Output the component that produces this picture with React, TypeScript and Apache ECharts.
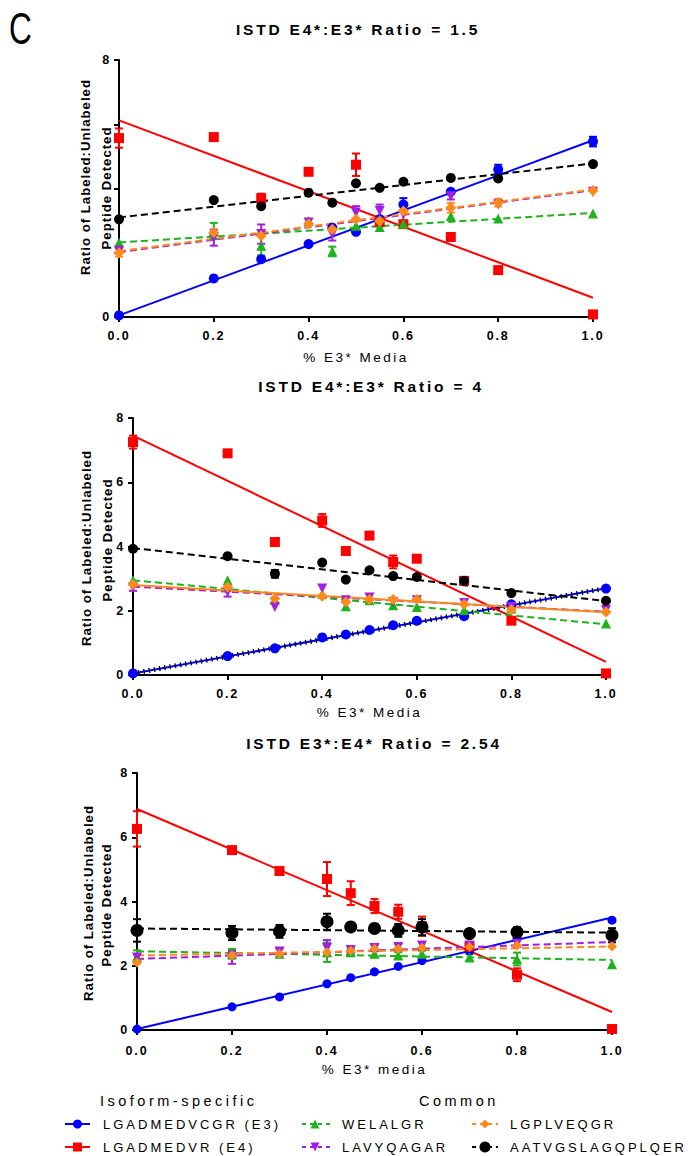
import React, { useEffect, useRef } from 'react';
import * as echarts from 'echarts';

// ---------- data ----------
const xPct = [0, 0.2, 0.3, 0.4, 0.45, 0.5, 0.55, 0.6, 0.7, 0.8, 1.0];
const yTickValues = [0, 2, 4, 6, 8];
const panelTitles = ['ISTD E4*:E3* Ratio = 1.5', 'ISTD E4*:E3* Ratio = 4', 'ISTD E3*:E4* Ratio = 2.54'];
const xAxisTitles = ['% E3* Media', '% E3* Media', '% E3* media'];
const yTitleLine1 = 'Ratio of Labeled:Unlabeled';
const yTitleLine2 = 'Peptide Detected';
const peptides = ['LGADMEDVCGR (E3)', 'LGADMEDVR (E4)', 'WELALGR', 'LAVYQAGAR', 'LGPLVEQGR', 'AATVGSLAGQPLQER'];
const legendHeaders = ['Isoform-specific', 'Common'];

// Panel 1: ISTD ratio 1.5
const p1E3 = [0.05, 1.2, 1.8, 2.27, 2.78, 2.65, 3.05, 3.5, 3.9, 4.59, 5.46];
const p1E4 = [5.57, 5.6, 3.69, 4.52, null, 4.74, 2.95, 2.89, 2.49, 1.46, 0.08];
const p1WEL = [2.32, 2.68, 2.22, 2.99, 2.04, 2.84, 2.8, 2.9, 3.14, 3.07, 3.22];
const p1LAV = [2.06, 2.47, 2.58, 2.94, 2.58, 3.25, 3.3, 3.2, 3.76, 3.5, 3.9];
const p1LGP = [2.0, 2.63, 2.53, 2.9, 2.73, 3.04, 2.99, 3.3, 3.4, 3.56, 3.94];
const p1AAT = [3.04, 3.64, 3.45, 3.87, 3.56, 4.16, 4.02, 4.21, 4.33, 4.31, 4.76];
const e1E3 = [0, 0, 0, 0, 0, 0, 0, 0.2, 0, 0.15, 0.15];
const e1E4 = [0.3, 0, 0.15, 0, 0, 0.35, 0, 0, 0, 0, 0];
const e1WEL = [0, 0.25, 0.3, 0, 0.15, 0, 0, 0, 0, 0, 0];
const e1LAV = [0, 0.25, 0.3, 0, 0.2, 0.2, 0.2, 0.25, 0.1, 0, 0];
const e1LGP = [0.12, 0, 0, 0, 0, 0, 0, 0, 0.15, 0.12, 0];
const e1AAT = [0, 0, 0, 0, 0, 0, 0, 0, 0, 0, 0];
const fit1E3 = [0.05, 5.5];
const fit1E4 = [6.12, 0.6];
const fit1WEL = [2.32, 3.24];
const fit1LAV = [2.02, 3.95];
const fit1LGP = [2.05, 3.97];
const fit1AAT = [3.1, 4.78];

// Panel 2: ISTD ratio 4
const p2E3 = [0.05, 0.59, 0.83, 1.17, 1.26, 1.4, 1.55, 1.69, 1.83, 2.2, 2.69];
const p2E4 = [7.25, 6.9, 4.14, 4.81, 3.86, 4.34, 3.52, 3.62, 2.93, 1.69, 0.05];
const p2WEL = [2.95, 2.95, 2.35, 2.53, 2.14, 2.33, 2.17, 2.12, 2.02, 2.07, 1.6];
const p2LAV = [2.72, 2.59, 2.12, 2.69, 2.33, 2.41, 2.27, 2.33, 2.24, 2.12, 2.02];
const p2LGP = [2.82, 2.74, 2.38, 2.45, 2.27, 2.35, 2.35, 2.35, 2.2, 2.04, 1.96];
const p2AAT = [3.93, 3.7, 3.15, 3.5, 2.97, 3.26, 3.08, 3.05, 2.93, 2.55, 2.31];
const e2E3 = [0, 0, 0, 0, 0, 0, 0, 0, 0, 0, 0];
const e2E4 = [0.2, 0, 0, 0.2, 0, 0.1, 0.2, 0, 0, 0, 0];
const e2WEL = [0, 0, 0, 0, 0, 0, 0, 0, 0, 0, 0];
const e2LAV = [0.1, 0.15, 0, 0, 0, 0, 0, 0, 0, 0, 0];
const e2LGP = [0, 0, 0, 0, 0, 0, 0, 0, 0, 0, 0];
const e2AAT = [0, 0, 0.12, 0, 0, 0, 0, 0, 0, 0, 0];
const fit2E3 = [0.05, 2.7];
const fit2E4 = [7.45, 0.41];
const fit2WEL = [2.95, 1.58];
const fit2LAV = [2.75, 1.97];
const fit2LGP = [2.8, 1.95];
const fit2AAT = [3.95, 2.3];

// Panel 3: ISTD ratio 2.54
const p3E3 = [0.03, 0.72, 1.03, 1.44, 1.63, 1.81, 1.98, 2.16, 2.45, 2.87, 3.42];
const p3E4 = [6.26, 5.6, 4.95, 4.7, 4.26, 3.86, 3.68, 3.23, 2.6, 1.72, 0.03];
const p3WEL = [2.28, 2.37, 2.37, 2.42, 2.42, 2.37, 2.32, 2.37, 2.26, 2.21, 2.05];
const p3LAV = [2.26, 2.26, 2.44, 2.55, 2.49, 2.55, 2.58, 2.63, 2.63, 2.68, 2.74];
const p3LGP = [2.1, 2.32, 2.37, 2.42, 2.47, 2.53, 2.53, 2.56, 2.58, 2.63, 2.6];
const p3AAT = [3.1, 3.02, 3.07, 3.37, 3.21, 3.16, 3.1, 3.2, 3.0, 3.05, 2.95];
const e3E3 = [0, 0, 0, 0, 0, 0, 0, 0, 0, 0, 0];
const e3E4 = [0.55, 0.1, 0.1, 0.53, 0.37, 0.22, 0.22, 0.3, 0.1, 0.2, 0];
const e3WEL = [0.2, 0.15, 0, 0.3, 0.1, 0.1, 0.1, 0.1, 0.1, 0.2, 0];
const e3LAV = [0.1, 0.2, 0.1, 0.25, 0.1, 0.1, 0.1, 0.1, 0.1, 0.1, 0.15];
const e3LGP = [0, 0, 0, 0, 0, 0, 0, 0, 0, 0, 0];
const e3AAT = [0.35, 0.22, 0.2, 0.25, 0.1, 0.08, 0.2, 0.25, 0.12, 0.15, 0.22];
const fit3E3 = [0.03, 3.5];
const fit3E4 = [6.88, 0.56];
const fit3WEL = [2.45, 2.18];
const fit3LAV = [2.21, 2.74];
const fit3LGP = [2.32, 2.6];
const fit3AAT = [3.16, 3.03];

// ---------- styling ----------
const FONT = '"Liberation Sans", Arial, sans-serif';
const COLORS = ['#0000ff', '#ff0000', '#1db31d', '#a21ee0', '#ff8a1c', '#000000'];
const SYMBOLS = ['circle', 'rect', 'triangle', 'triangle', 'diamond', 'circle'];
const ROTATE = [0, 0, 0, 180, 0, 0];
const DASHED = [false, false, true, true, true, true];

const panels = [
  {
    vals: [p1E3, p1E4, p1WEL, p1LAV, p1LGP, p1AAT],
    errs: [e1E3, e1E4, e1WEL, e1LAV, e1LGP, e1AAT],
    fits: [fit1E3, fit1E4, fit1WEL, fit1LAV, fit1LGP, fit1AAT],
    grid: { left: 119, top: 60, width: 474, height: 257 },
    sizes: [10, 10, 10, 10, 11, 10],
    solidOverride: [] as number[],
    showAllY: false,
    title: { x: 358, y: 29 },
    yT1: { x: 85, y: 177 },
    yT2: { x: 106, y: 188 },
    labelMargin: 12,
    nameGap: 33,
  },
  {
    vals: [p2E3, p2E4, p2WEL, p2LAV, p2LGP, p2AAT],
    errs: [e2E3, e2E4, e2WEL, e2LAV, e2LGP, e2AAT],
    fits: [fit2E3, fit2E4, fit2WEL, fit2LAV, fit2LGP, fit2AAT],
    grid: { left: 133, top: 418, width: 473, height: 257 },
    sizes: [10, 10, 10, 10, 11, 10],
    solidOverride: [4],
    showAllY: true,
    title: { x: 371, y: 386 },
    yT1: { x: 86, y: 548 },
    yT2: { x: 107, y: 540 },
    labelMargin: 12,
    nameGap: 30,
  },
  {
    vals: [p3E3, p3E4, p3WEL, p3LAV, p3LGP, p3AAT],
    errs: [e3E3, e3E4, e3WEL, e3LAV, e3LGP, e3AAT],
    fits: [fit3E3, fit3E4, fit3WEL, fit3LAV, fit3LGP, fit3AAT],
    grid: { left: 137, top: 773, width: 475, height: 257 },
    sizes: [9, 10, 10, 10, 10, 13],
    solidOverride: [] as number[],
    showAllY: true,
    title: { x: 374, y: 743 },
    yT1: { x: 88, y: 903 },
    yT2: { x: 106, y: 905 },
    labelMargin: 14,
    nameGap: 32,
  },
];

const css = `
text[style*="15.5px"]{letter-spacing:2.8px}
text[style*="12.5px"]{letter-spacing:1.8px}
text[style*="13.5px"]{letter-spacing:2.5px}
text[style*="13.2px"]{letter-spacing:1px}
text[style*="14.5px"]{letter-spacing:3.5px}
text[style*="13px"]{letter-spacing:3px}
`;

function buildOption() {
  const grids: any[] = [];
  const xAxes: any[] = [];
  const yAxes: any[] = [];
  const series: any[] = [];
  const graphics: any[] = [];

  panels.forEach((p, pi) => {
    grids.push({ ...p.grid, containLabel: false });
    xAxes.push({
      type: 'value', gridIndex: pi, min: 0, max: 1, interval: 0.2,
      axisLine: { show: true, onZero: false, lineStyle: { color: '#000', width: 2 } },
      axisTick: { show: true, length: 5, lineStyle: { color: '#000', width: 2 } },
      axisLabel: {
        margin: p.labelMargin, color: '#000', fontFamily: FONT, fontWeight: 'bold', fontSize: 12.5,
        formatter: (v: number) => v.toFixed(1),
      },
      splitLine: { show: false },
      name: xAxisTitles[pi], nameLocation: 'middle', nameGap: p.nameGap,
      nameTextStyle: { color: '#000', fontFamily: FONT, fontSize: 13.5 },
    });
    yAxes.push({
      type: 'value', gridIndex: pi, min: yTickValues[0], max: yTickValues[yTickValues.length - 1], interval: 2,
      axisLine: { show: true, onZero: false, lineStyle: { color: '#000', width: 2 } },
      axisTick: { show: true, length: 5, lineStyle: { color: '#000', width: 2 } },
      axisLabel: {
        margin: 8, color: '#000', fontFamily: FONT, fontWeight: 'bold', fontSize: 12.5,
        formatter: (v: number) => (p.showAllY || v === 0 || v === 8 ? String(v) : ''),
      },
      splitLine: { show: false },
    });

    // fit lines
    p.fits.forEach((f, si) => {
      const dashed = DASHED[si] && !p.solidOverride.includes(si);
      series.push({
        type: 'line', xAxisIndex: pi, yAxisIndex: pi, name: peptides[si] + ' fit',
        data: [[0, f[0]], [1, f[1]]], symbol: 'none', silent: true, z: 2,
        lineStyle: { color: COLORS[si], width: 2, type: dashed ? [7, 4] : 'solid' },
      });
      if (pi === 1 && si === 0) {
        series.push({
          type: 'line', xAxisIndex: pi, yAxisIndex: pi, name: peptides[si] + ' fit ticks',
          data: [[0, f[0]], [1, f[1]]], symbol: 'none', silent: true, z: 2,
          lineStyle: { color: '#000', width: 5, type: [1.3, 4] },
        });
      }
    });

    // error bars
    const errData: any[] = [];
    p.errs.forEach((arr, si) => {
      arr.forEach((e, i) => {
        const v = p.vals[si][i];
        if (e && v != null) errData.push([xPct[i], v, e, si]);
      });
    });
    series.push({
      type: 'custom', xAxisIndex: pi, yAxisIndex: pi, name: 'err' + pi, z: 3, silent: true,
      encode: { x: 0, y: 1 },
      data: errData,
      renderItem: (params: any, api: any) => {
        const x = api.value(0), y = api.value(1), e = api.value(2);
        const c = COLORS[api.value(3)];
        const a = api.coord([x, y + e]);
        const b = api.coord([x, y - e]);
        const w = 4;
        const st = { stroke: c, lineWidth: 2 };
        return {
          type: 'group',
          children: [
            { type: 'line', shape: { x1: a[0], y1: a[1], x2: b[0], y2: b[1] }, style: st },
            { type: 'line', shape: { x1: a[0] - w, y1: a[1], x2: a[0] + w, y2: a[1] }, style: st },
            { type: 'line', shape: { x1: b[0] - w, y1: b[1], x2: b[0] + w, y2: b[1] }, style: st },
          ],
        };
      },
    });

    // points
    p.vals.forEach((arr, si) => {
      series.push({
        type: 'scatter', xAxisIndex: pi, yAxisIndex: pi, name: peptides[si],
        data: xPct.map((x, i) => (arr[i] == null ? null : [x, arr[i]])).filter((d) => d !== null),
        symbol: SYMBOLS[si], symbolRotate: ROTATE[si], symbolSize: p.sizes[si], z: 4,
        itemStyle: { color: COLORS[si], opacity: 1 },
      });
    });

    // titles
    graphics.push({
      type: 'text', x: p.title.x, y: p.title.y,
      style: { text: panelTitles[pi], fill: '#000', font: `bold 15.5px ${FONT}`, align: 'center', verticalAlign: 'middle' },
    });
    graphics.push({
      type: 'text', x: p.yT1.x, y: p.yT1.y, rotation: Math.PI / 2,
      style: { text: yTitleLine1, fill: '#000', font: `bold 13.2px ${FONT}`, align: 'center', verticalAlign: 'middle' },
    });
    graphics.push({
      type: 'text', x: p.yT2.x, y: p.yT2.y, rotation: Math.PI / 2,
      style: { text: yTitleLine2, fill: '#000', font: `bold 13.2px ${FONT}`, align: 'center', verticalAlign: 'middle' },
    });
  });

  // panel letter
  graphics.push({
    type: 'text', x: 9, y: 7, scaleX: 0.72,
    style: { text: 'C', fill: '#000', font: `44px ${FONT}`, align: 'left', verticalAlign: 'top' },
  });

  // legend
  graphics.push({
    type: 'text', x: 100, y: 1101,
    style: { text: legendHeaders[0], fill: '#000', font: `14.5px ${FONT}`, align: 'left', verticalAlign: 'middle' },
  });
  graphics.push({
    type: 'text', x: 419, y: 1101,
    style: { text: legendHeaders[1], fill: '#000', font: `14.5px ${FONT}`, align: 'left', verticalAlign: 'middle' },
  });
  const cols = [
    { x0: 65, x1: 90, tx: 103 },
    { x0: 302, x1: 333, tx: 342 },
    { x0: 472, x1: 498, tx: 510 },
  ];
  const rows = [1124, 1147];
  // peptide index -> (row, col)
  const place = [
    { r: 0, c: 0 }, { r: 1, c: 0 }, { r: 0, c: 1 }, { r: 1, c: 1 }, { r: 0, c: 2 }, { r: 1, c: 2 },
  ];
  place.forEach((pl, si) => {
    const col = cols[pl.c];
    const y = rows[pl.r];
    const c = COLORS[si];
    const mx = pl.c === 0 ? (col.x0 + col.x1) / 2 : col.x0 + 13;
    graphics.push({
      type: 'line', shape: { x1: col.x0, y1: y, x2: col.x1, y2: y },
      style: { stroke: c, lineWidth: 2, lineDash: DASHED[si] ? [4, 4] : null },
    });
    const s = 4.5;
    let marker: any;
    if (SYMBOLS[si] === 'circle') {
      marker = { type: 'circle', shape: { cx: mx, cy: y, r: si === 5 ? 5.5 : 4.5 }, style: { fill: c } };
    } else if (SYMBOLS[si] === 'rect') {
      marker = { type: 'rect', shape: { x: mx - s, y: y - s, width: 2 * s, height: 2 * s }, style: { fill: c } };
    } else if (SYMBOLS[si] === 'diamond') {
      marker = { type: 'polygon', shape: { points: [[mx, y - s], [mx + s, y], [mx, y + s], [mx - s, y]] }, style: { fill: c } };
    } else if (ROTATE[si] === 180) {
      marker = { type: 'polygon', shape: { points: [[mx - s, y - s], [mx + s, y - s], [mx, y + s]] }, style: { fill: c } };
    } else {
      marker = { type: 'polygon', shape: { points: [[mx - s, y + s], [mx + s, y + s], [mx, y - s]] }, style: { fill: c } };
    }
    graphics.push(marker);
    graphics.push({
      type: 'text', x: col.tx, y,
      style: { text: peptides[si], fill: '#000', font: `13px ${FONT}`, align: 'left', verticalAlign: 'middle' },
    });
  });

  return {
    animation: false,
    backgroundColor: '#ffffff',
    grid: grids,
    xAxis: xAxes,
    yAxis: yAxes,
    series,
    graphic: { elements: graphics },
  };
}

export default function App() {
  const ref = useRef<HTMLDivElement | null>(null);
  useEffect(() => {
    if (!ref.current) return;
    const chart = echarts.init(ref.current, undefined, { renderer: 'svg' });
    chart.setOption(buildOption() as any);
    return () => chart.dispose();
  }, []);
  return (
    <>
      <style>{css}</style>
      <div
        ref={ref}
        style={{ position: 'absolute', left: 0, top: 0, width: 695, height: 1156, background: '#fff' }}
      />
    </>
  );
}
